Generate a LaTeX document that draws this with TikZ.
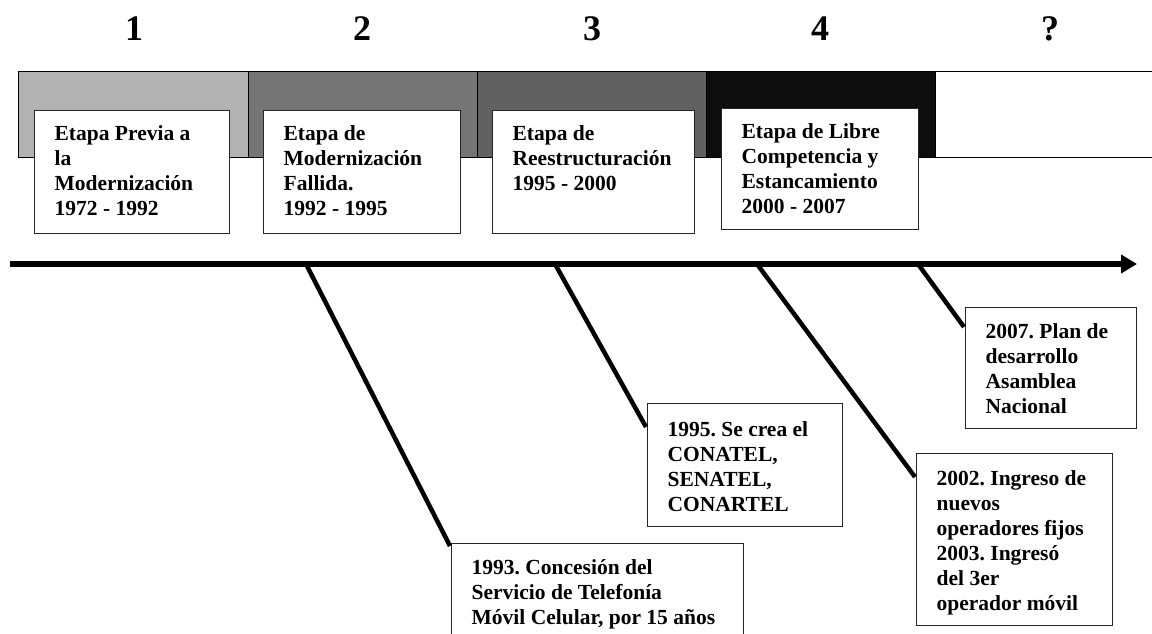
\documentclass[tikz,border=0pt]{standalone}
\usepackage{fontspec}
\setmainfont{Liberation Serif}
\usetikzlibrary{arrows.meta}
\frenchspacing
% top-aligned text block of a stage box: width, height, top gap, text
\newcommand\stagetext[4]{\parbox[c][#2][t]{#1}{\vspace*{#3}#4}}
\begin{document}
\begin{tikzpicture}[x=1pt,y=-1pt,
  band/.style={draw=black, line width=1pt},
  phase/.style={font=\fontsize{36}{40}\selectfont\bfseries},
  stagebox/.style={draw=black!85, line width=1.3pt, fill=white, anchor=north west,
    inner xsep=20pt, inner ysep=0pt, font=\fontsize{21.5}{25}\selectfont\bfseries},
  axis/.style={line width=6pt, -{Triangle[length=16pt,width=18pt]}},
  link/.style={line width=4.5pt}
]
\useasboundingbox (0,0) rectangle (1152,634);

% phase numbers
\node[phase] (n1) at (134,29) {1};
\node[phase] (n2) at (362,29) {2};
\node[phase] (n3) at (592,29) {3};
\node[phase] (n4) at (820,29) {4};
\node[phase] (n5) at (1050,29) {?};

% shaded band of the periods
\filldraw[band, fill=black!30] (18,72) rectangle (248,157);
\filldraw[band, fill=black!54] (248,72) rectangle (477,157);
\filldraw[band, fill=black!62] (477,72) rectangle (706,157);
\filldraw[band, fill=black!95] (706,72) rectangle (935,157);
\filldraw[band, fill=white] (935,72) rectangle (1170,157);

% period boxes
\node[stagebox] (b1) at (34,110) {\stagetext{155pt}{123pt}{15pt}{Etapa Previa a\\la\\Modernización\\1972 - 1992}};
\node[stagebox] (b2) at (263,110) {\stagetext{157pt}{123pt}{15pt}{Etapa de\\Modernización\\Fallida.\\1992 - 1995}};
\node[stagebox] (b3) at (492,110) {\stagetext{162pt}{123pt}{15pt}{Etapa de\\Reestructuración\\1995 - 2000}};
\node[stagebox] (b4) at (721,108) {\stagetext{157pt}{121pt}{15pt}{Etapa de Libre\\Competencia y\\Estancamiento\\2000 - 2007}};

% time axis
\coordinate (tl) at (10,264);
\coordinate (tr) at (1137,264);
\draw[axis] (tl) -- (tr);

% events
\node[stagebox] (e1) at (451,543) {\stagetext{252pt}{130pt}{16pt}{1993. Concesión del\\Servicio de Telefonía\\Móvil Celular, por 15 años}};
\node[stagebox] (e2) at (647,403) {\stagetext{155pt}{123pt}{18pt}{1995. Se crea el\\CONATEL,\\SENATEL,\\CONARTEL}};
\node[stagebox] (e3) at (916,453) {\stagetext{156pt}{172pt}{17pt}{2002. Ingreso de\\nuevos\\operadores fijos\\2003. Ingresó\\del 3er\\operador móvil}};
\node[stagebox] (e4) at (965,307) {\stagetext{131pt}{121pt}{16pt}{2007. Plan de\\desarrollo\\Asamblea\\Nacional}};

% links from the axis to the events
\coordinate (a1) at (306,264);
\coordinate (a2) at (555,264);
\coordinate (a3) at (757,264);
\coordinate (a4) at (918,264);
\draw[link] (a1) -- ([xshift=-1pt,yshift=-3pt]e1.north west);
\draw[link] (a2) -- ([xshift=-1pt,yshift=-24pt]e2.north west);
\draw[link] (a3) -- ([xshift=-1pt,yshift=-24pt]e3.north west);
\draw[link] (a4) -- ([xshift=-1pt,yshift=-20pt]e4.north west);
\end{tikzpicture}
\end{document}
